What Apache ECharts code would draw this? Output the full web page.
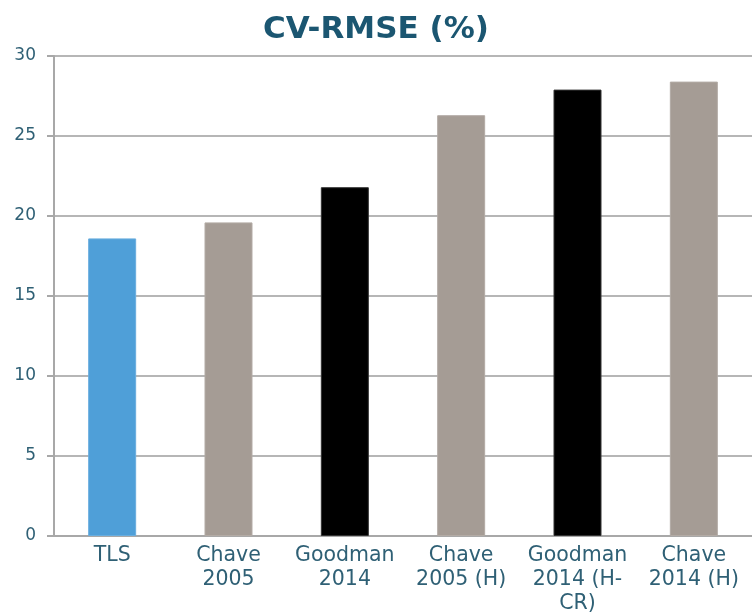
<!DOCTYPE html>
<html>
<head>
<meta charset="utf-8">
<script src="https://cdn.jsdelivr.net/npm/echarts@6/dist/echarts.min.js"></script>
<style>
  html, body { margin: 0; padding: 0; background: #fff; }
  #chart { width: 752px; height: 616px; }
</style>
</head>
<body>
<div id="chart"></div>
<script>
// 类目、数值、颜色
const categories = ['TLS', 'Chave\n2005', 'Goodman\n2014', 'Chave\n2005 (H)', 'Goodman\n2014 (H-\nCR)', 'Chave\n2014 (H)'];
const values = [18.6, 19.6, 21.8, 26.3, 27.9, 28.4];
const barColors = ['#4f9fd8', '#a59c95', '#000000', '#a59c95', '#000000', '#a59c95'];
const yTicks = [0, 5, 10, 15, 20, 25, 30];

const chart = echarts.init(document.getElementById('chart'));

const option = {
    animation: false,
    title: {
        text: 'CV-RMSE (%)',
        left: 'center',
        top: 9,
        textStyle: {
            fontFamily: '"DejaVu Sans", Verdana, sans-serif',
            fontSize: 31,
            fontWeight: 'bold',
            color: '#1b5671'
        }
    },
    grid: { left: 54, right: -6, top: 56, bottom: 80 },
    xAxis: {
        type: 'category',
        data: categories,
        axisLine: { lineStyle: { color: '#a8a8a8', width: 2 } },
        axisTick: { length: 7, lineStyle: { color: '#a8a8a8', width: 2 } },
        axisLabel: {
            interval: 0,
            margin: 8,
            fontFamily: '"DejaVu Sans", Verdana, sans-serif',
            fontSize: 20.5,
            lineHeight: 24,
            color: '#2f6075'
        }
    },
    yAxis: {
        type: 'value',
        min: yTicks[0],
        max: yTicks[yTicks.length - 1],
        interval: 5,
        axisLine: { show: true, lineStyle: { color: '#a8a8a8', width: 2 } },
        axisTick: { show: true, length: 7, lineStyle: { color: '#a8a8a8', width: 2 } },
        splitLine: { lineStyle: { color: '#b6b6b6', width: 2 } },
        axisLabel: {
            margin: 18,
            fontFamily: '"DejaVu Sans", Verdana, sans-serif',
            fontSize: 17,
            color: '#2f6075'
        }
    },
    series: [{
        type: 'bar',
        barWidth: 48,
        data: values.map((v, i) => ({
            value: v,
            itemStyle: { color: barColors[i], borderColor: i === 0 ? '#6aaedf' : (barColors[i] === '#000000' ? '#333' : '#b3aba5'), borderWidth: 1 }
        }))
    }]
};

chart.setOption(option);
</script>
</body>
</html>
